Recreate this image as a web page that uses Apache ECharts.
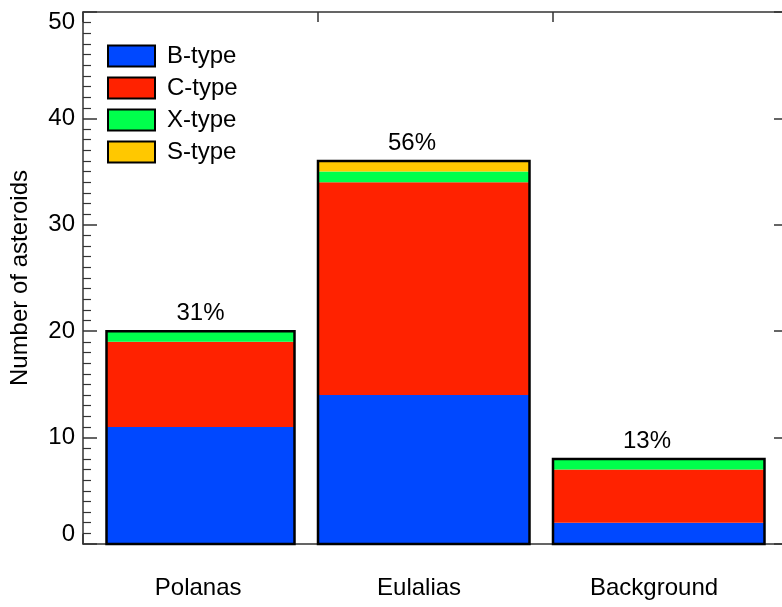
<!DOCTYPE html>
<html>
<head>
<meta charset="utf-8">
<script src="https://cdn.jsdelivr.net/npm/echarts@6/dist/echarts.min.js"></script>
<style>
  html, body { margin: 0; padding: 0; background: #fff; }
  #chart { width: 782px; height: 607px; }
</style>
</head>
<body>
<div id="chart"></div>
<script>
// Asteroid counts per family, split by taxonomic type
const families = ['Polanas', 'Eulalias', 'Background'];
const typeNames = ['B-type', 'C-type', 'X-type', 'S-type'];
const bType = [11, 14, 2];
const cType = [8, 20, 5];
const xType = [1, 1, 1];
const sType = [0, 1, 0];
const yTicks = [0, 10, 20, 30, 40, 50];

// Layout of the bars along the x axis (axis units, one unit per family)
const barStart = [0.1, 1.0, 2.0];
const barEnd = [0.9, 1.9, 2.9];
const pctLabelX = [0.5, 1.4, 2.4];
const nameLabelX = [0.49, 1.43, 2.43];

const typeColors = ['#0048ff', '#ff2200', '#00ff4c', '#ffc800'];
const FONT = 'Liberation Sans, Arial, Helvetica, sans-serif';

const layers = [bType, cType, xType, sType];
const totals = families.map((_, i) => layers.reduce((s, arr) => s + arr[i], 0));
const grand = totals.reduce((a, b) => a + b, 0);

function segmentSeries(k) {
  return {
    type: 'custom',
    name: typeNames[k],
    itemStyle: { color: typeColors[k] },
    data: families.map((_, i) => [i, layers[k][i]]),
    renderItem: function (params, api) {
      const i = api.value(0);
      const v = api.value(1);
      if (!v) return null;
      let base = 0;
      for (let j = 0; j < k; j++) base += layers[j][i];
      const p0 = api.coord([barStart[i], base]);
      const p1 = api.coord([barEnd[i], base + v]);
      return {
        type: 'rect',
        shape: { x: p0[0], y: p1[1], width: p1[0] - p0[0], height: p0[1] - p1[1] },
        style: { fill: typeColors[k] }
      };
    }
  };
}

const outlineSeries = {
  type: 'custom',
  name: 'outline',
  silent: true,
  data: families.map((_, i) => [i, totals[i]]),
  renderItem: function (params, api) {
    const i = api.value(0);
    const t = api.value(1);
    const p0 = api.coord([barStart[i], 0]);
    const p1 = api.coord([barEnd[i], t]);
    const pct = Math.round(100 * t / grand) + '%';
    const pl = api.coord([pctLabelX[i], t]);
    const nl = api.coord([nameLabelX[i], 0]);
    return {
      type: 'group',
      children: [
        {
          type: 'rect',
          shape: { x: p0[0], y: p1[1], width: p1[0] - p0[0], height: p0[1] - p1[1] },
          style: { fill: null, stroke: '#000', lineWidth: 2.5 }
        },
        {
          type: 'text',
          style: {
            x: pl[0], y: pl[1] - 18, text: pct,
            align: 'center', verticalAlign: 'middle',
            font: '24px ' + FONT, fill: '#000'
          }
        },
        {
          type: 'text',
          style: {
            x: nl[0], y: nl[1] + 44, text: families[i],
            align: 'center', verticalAlign: 'middle',
            font: '24px ' + FONT, fill: '#000'
          }
        }
      ]
    };
  }
};

const axisLineStyle = { color: '#333', width: 1.5 };

const option = {
  backgroundColor: '#fff',
  animation: false,
  textStyle: { fontFamily: FONT },
  grid: { left: 83, top: 12, width: 705, height: 532, containLabel: false, outerBoundsMode: 'none' },
  legend: {
    data: typeNames,
    orient: 'vertical',
    left: 107,
    top: 44,
    padding: 0,
    icon: 'rect',
    itemWidth: 47,
    itemHeight: 21,
    itemGap: 8,
    itemStyle: { borderColor: '#000', borderWidth: 2 },
    textStyle: { fontSize: 24, color: '#000', fontFamily: FONT, lineHeight: 21, padding: [0, 0, 0, 7] },
    selectedMode: false
  },
  xAxis: [
    {
      type: 'value', min: 0, max: 3, interval: 1, position: 'bottom',
      axisLine: { show: true, onZero: false, lineStyle: axisLineStyle },
      axisTick: { show: true, inside: true, length: 10, lineStyle: axisLineStyle },
      axisLabel: { show: false },
      splitLine: { show: false }
    },
    {
      type: 'value', min: 0, max: 3, interval: 1, position: 'top',
      axisLine: { show: true, onZero: false, lineStyle: axisLineStyle },
      axisTick: { show: true, inside: true, length: 10, lineStyle: axisLineStyle },
      axisLabel: { show: false },
      splitLine: { show: false }
    }
  ],
  yAxis: [
    {
      type: 'value', min: yTicks[0], max: yTicks[yTicks.length - 1], interval: 10,
      position: 'left',
      name: 'Number of asteroids',
      nameLocation: 'middle',
      nameGap: 51,
      nameTextStyle: { fontSize: 24, color: '#000', fontFamily: FONT },
      axisLine: { show: true, onZero: false, lineStyle: axisLineStyle },
      axisTick: { show: true, inside: true, length: 14, lineStyle: axisLineStyle },
      minorTick: { show: true, splitNumber: 10, length: 8, lineStyle: { color: '#333', width: 1.2 } },
      axisLabel: {
        fontSize: 24, color: '#000', fontFamily: FONT, margin: 8, lineHeight: 20,
        verticalAlignMinLabel: 'bottom', verticalAlignMaxLabel: 'top'
      },
      splitLine: { show: false }
    },
    {
      type: 'value', min: yTicks[0], max: yTicks[yTicks.length - 1], interval: 10,
      position: 'right',
      axisLine: { show: true, onZero: false, lineStyle: axisLineStyle },
      axisTick: { show: true, inside: true, length: 14, lineStyle: axisLineStyle },
      axisLabel: { show: false },
      splitLine: { show: false }
    }
  ],
  series: [0, 1, 2, 3].map(segmentSeries).concat([outlineSeries])
};

const chart = echarts.init(document.getElementById('chart'), null, { renderer: 'canvas' });
chart.setOption(option);
</script>
</body>
</html>
